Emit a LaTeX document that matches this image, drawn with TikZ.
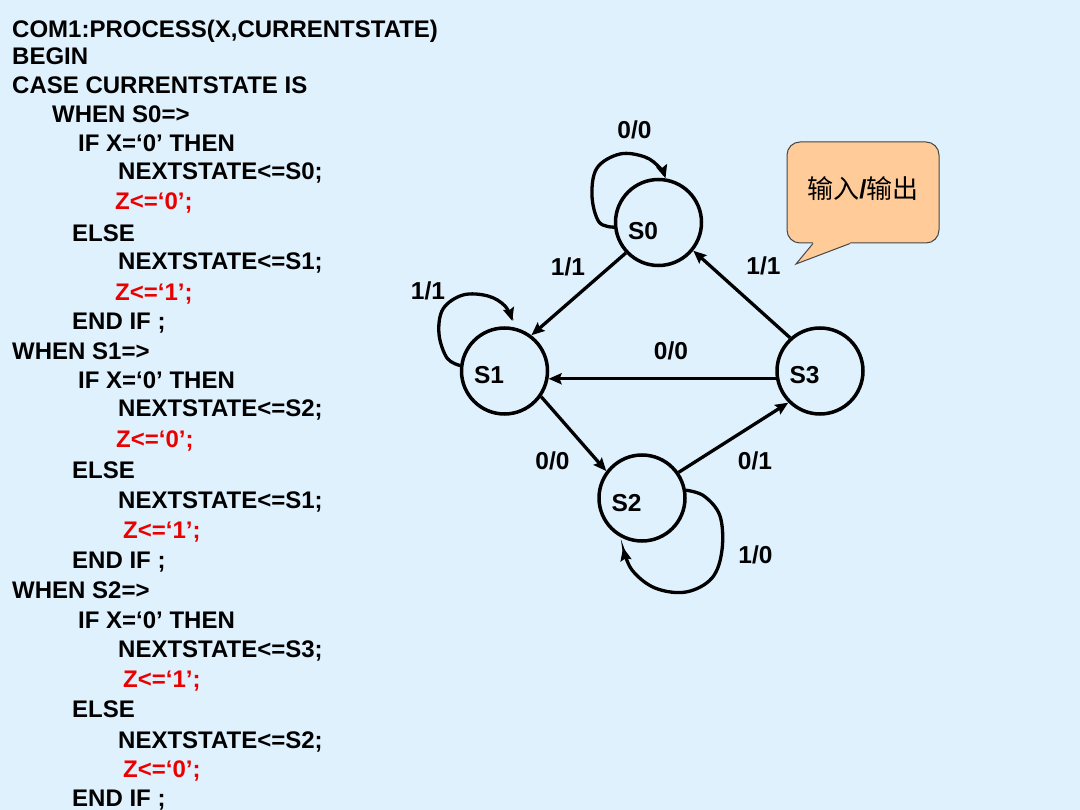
\documentclass[tikz,border=0pt]{standalone}
\usepackage{fontspec}
\setmainfont{Liberation Sans}
\newfontfamily\cjk{Noto Sans CJK SC}
\usetikzlibrary{arrows.meta,calc}
\definecolor{bgblue}{RGB}{224,241,254}
\definecolor{codered}{RGB}{235,0,0}
\definecolor{peach}{RGB}{255,204,153}
\definecolor{calloutline}{RGB}{70,70,70}
\tikzset{
  code/.style={anchor=base west, inner sep=0pt, font=\fontsize{24}{28}\selectfont\bfseries, text=black},
  redcode/.style={code, text=codered},
  state/.style={circle, draw=black, line width=3.5pt, minimum size=86pt, inner sep=0pt},
  stlabel/.style={inner sep=0pt, font=\fontsize{24.5}{28}\selectfont\bfseries},
  elabel/.style={inner sep=0pt, font=\fontsize{24.5}{28}\selectfont\bfseries},
  edge/.style={line width=3.3pt, -{Stealth[length=13pt,width=11pt,inset=2pt]}},
  callbox/.style={rectangle, rounded corners=13pt, fill=peach, draw=calloutline, line width=1pt, minimum width=152pt, minimum height=101pt, inner sep=0pt}
}
\begin{document}
\begin{tikzpicture}[x=1pt,y=-1pt]
\fill[bgblue] (0,0) rectangle (1080,810);
\useasboundingbox (0,0) rectangle (1080,810);
% code
\node[code] (c1) at (12,37.3) {COM1:PROCESS(X,CURRENTSTATE)};
\node[code] (c2) at (12,65) {BEGIN};
\node[code] (c3) at (12,93.3) {CASE CURRENTSTATE IS};
\node[code] (c4) at (52,122.7) {WHEN S0=>};
\node[code] (c5) at (78,151.7) {IF X=‘0’ THEN};
\node[code] (c6) at (118,180) {NEXTSTATE<=S0;};
\node[redcode] (c7) at (115,210) {Z<=‘0’;};
\node[code] (c8) at (72,241.7) {ELSE};
\node[code] (c9) at (118,270) {NEXTSTATE<=S1;};
\node[redcode] (c10) at (115,300.5) {Z<=‘1’;};
\node[code] (c11) at (72,330) {END IF ;};
\node[code] (c12) at (12,360) {WHEN S1=>};
\node[code] (c13) at (78,388.3) {IF X=‘0’ THEN};
\node[code] (c14) at (118,416.7) {NEXTSTATE<=S2;};
\node[redcode] (c15) at (116,448) {Z<=‘0’;};
\node[code] (c16) at (72,478.3) {ELSE};
\node[code] (c17) at (118,508.3) {NEXTSTATE<=S1;};
\node[redcode] (c18) at (123,538.3) {Z<=‘1’;};
\node[code] (c19) at (72,568.3) {END IF ;};
\node[code] (c20) at (12,598.3) {WHEN S2=>};
\node[code] (c21) at (78,628.3) {IF X=‘0’ THEN};
\node[code] (c22) at (118,657.3) {NEXTSTATE<=S3;};
\node[redcode] (c23) at (123,687) {Z<=‘1’;};
\node[code] (c24) at (72,717.3) {ELSE};
\node[code] (c25) at (118,748) {NEXTSTATE<=S2;};
\node[redcode] (c26) at (123,777) {Z<=‘0’;};
\node[code] (c27) at (72,806.7) {END IF ;};
% states
\node[state] (s0) at (658.5,222.5) {};
\node[state] (s1) at (504.5,371) {};
\node[state] (s2) at (642,498) {};
\node[state] (s3) at (820,371) {};
\node[stlabel] (s0t) at (643,231) {S0};
\node[stlabel] (s1t) at (489,375) {S1};
\node[stlabel] (s2t) at (626.5,503) {S2};
\node[stlabel] (s3t) at (804.5,375) {S3};
% edges
\draw[edge] (s0.223) -- (s1.53);
\draw[edge] (s3.132) -- (s0.321);
\draw[edge] (s3.190) -- (s1.350);
\draw[edge] (s1.325) -- (s2.143);
\draw[edge] (s2.35) -- (s3.225);
% loops
\draw[edge] plot[smooth, tension=0.6] coordinates {(s0.186) (599,222) (592,196) (597,168) (620,154) (645,157) (660,168) (s0.81)};
\draw[edge] plot[smooth, tension=0.6] coordinates {(s1.173) (447,358) (439,334) (443,309) (463,295) (488,296) (505,306) ([yshift=6pt]s1.80)};
\draw[edge] plot[smooth, tension=0.6] coordinates {(s2.10) (704,496) (720,516) (722,550) (712,578) (686,592) (655,588) (632,570) ([yshift=-9pt]s2.245)};
% edge labels
\node[elabel] (l1) at (634.5,130) {0/0};
\node[elabel] (l2) at (568,266.5) {1/1};
\node[elabel] (l3) at (763.5,266) {1/1};
\node[elabel] (l4) at (428,291) {1/1};
\node[elabel] (l5) at (671,351) {0/0};
\node[elabel] (l6) at (552.5,461) {0/0};
\node[elabel] (l7) at (755,461) {0/1};
\node[elabel] (l8) at (755.5,555) {1/0};
% callout
\node[callbox] (cb) at (863,192.5) {};
\coordinate (tip) at (796,264);
\fill[peach] ($(cb.south)+(-50,-2)$) -- ($(cb.south)+(-50,0.5)$) -- (tip) -- ($(cb.south)+(-13,0.5)$) -- ($(cb.south)+(-13,-2)$) -- cycle;
\draw[calloutline, line width=1pt, line join=miter] ($(cb.south)+(-50,0)$) -- (tip) -- ($(cb.south)+(-13,0)$);
\node[inner sep=0pt, font=\fontsize{26}{30}\selectfont] (cbt) at (863,189) {{\cjk 输入}\textbf{/}{\cjk 输出}};
\end{tikzpicture}
\end{document}
